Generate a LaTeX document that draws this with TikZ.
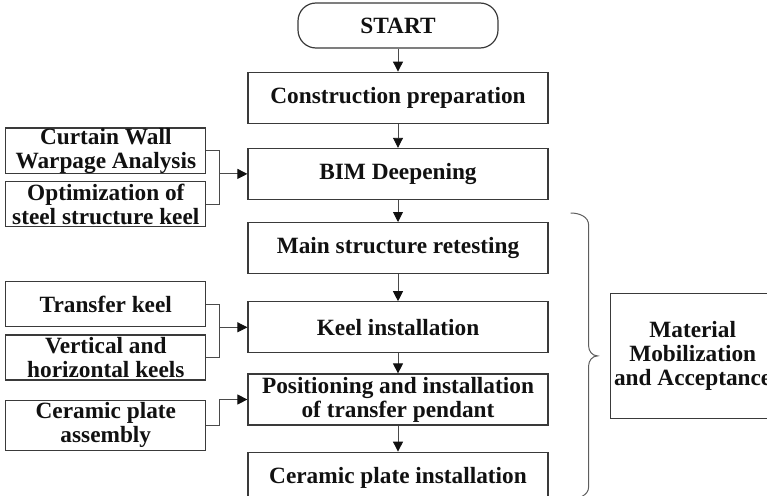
\documentclass[tikz,border=0pt]{standalone}
\usepackage{fontspec}
\setmainfont{Liberation Serif}
\usetikzlibrary{arrows.meta,calc,positioning}
\definecolor{ink}{HTML}{111111}
\definecolor{frame}{HTML}{3A3A3A}
\definecolor{lead}{HTML}{4A4A4A}
\definecolor{bracegray}{HTML}{5E5E5E}
\tikzset{
  basebox/.style={draw=frame,fill=white,line width=1.2pt,align=center,text=ink,inner sep=0pt,font=\fontsize{23.3}{24}\selectfont\bfseries},
  mainbox/.style={basebox,minimum width=300pt,minimum height=51pt},
  sidebox/.style={basebox,minimum width=200pt,minimum height=45pt},
  startbox/.style={basebox,rounded corners=18pt,minimum width=200pt,minimum height=45pt},
  arrow/.style={-{Triangle[length=10pt,width=10pt,color=ink]},line width=0.9pt,draw=lead},
  wire/.style={line width=0.9pt,draw=lead},
  bracepath/.style={line width=1pt,draw=bracegray}
}

\begin{document}
\begin{tikzpicture}[x=1pt,y=1pt]
  \useasboundingbox (0,0) rectangle (767,-495);
  % main flow
  \node[startbox] (start) at (398,-25.5) {START};
  \node[mainbox,below=23pt of start] (prep) {Construction preparation};
  \node[mainbox,below=24pt of prep] (bim) {BIM Deepening};
  \node[mainbox,below=22pt of bim] (retest) {Main structure retesting};
  \node[mainbox,below=27pt of retest] (keel) {Keel installation};
  \node[mainbox,below=20pt of keel] (pendant) {Positioning and installation\\of transfer pendant};
  \node[mainbox,below=26pt of pendant] (plate) {Ceramic plate installation};
  \foreach \a/\b in {start/prep,prep/bim,bim/retest,retest/keel,keel/pendant,pendant/plate}
    \draw[arrow] (\a) -- (\b);

  % side inputs
  \node[sidebox,above left=0pt and 41pt of bim.west] (warp) {Curtain Wall\\Warpage Analysis};
  \node[sidebox,below=7pt of warp] (optim) {Optimization of\\steel structure keel};
  \node[sidebox,above left=0pt and 41pt of keel.west] (transfer) {Transfer keel};
  \node[sidebox,below=7pt of transfer] (vhkeel) {Vertical and\\horizontal keels};
  \node[sidebox,minimum height=50pt,below left=0pt and 41pt of pendant.west] (assy) {Ceramic plate\\assembly};

  \coordinate (j1) at ($(bim.west)+(-28,0)$);
  \coordinate (j2) at ($(keel.west)+(-28,0)$);
  \draw[wire] (warp.east) -| (j1) |- (optim.east);
  \draw[arrow] (j1) -- (bim.west);
  \draw[wire] (transfer.east) -| (j2) |- (vhkeel.east);
  \draw[arrow] (j2) -- (keel.west);
  \draw[arrow] (assy.east) -- ++(13,0) |- (pendant.west);

  % brace and material box
  \coordinate (bt) at ($(retest.north east)+(22,9)$);
  \coordinate (bb) at ($(plate.south east)+(22,5)$);
  \coordinate (tip) at ($(bt)!0.5!(bb)+(27,0)$);
  \draw[bracepath] (bt) to[out=0,in=90] ($(bt)+(18,-12)$)
    -- ($(tip)+(-9,10)$) to[out=-90,in=180] (tip)
    to[out=180,in=90] ($(tip)+(-9,-10)$)
    -- ($(bb)+(18,12)$) to[out=-90,in=0] (bb);
  \node[basebox,right=12pt of tip,minimum width=165pt,minimum height=125pt] (accept) {Material\\Mobilization\\and Acceptance};
\end{tikzpicture}
\end{document}
